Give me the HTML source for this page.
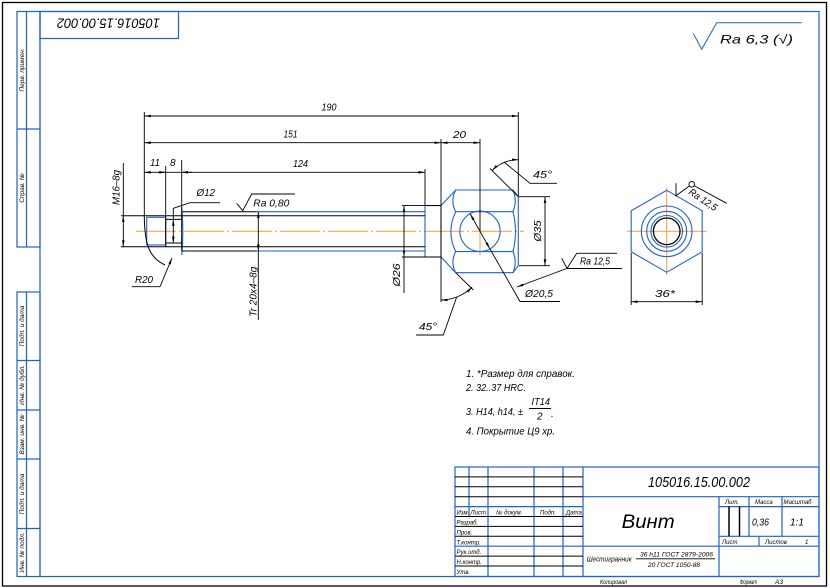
<!DOCTYPE html>
<html><head><meta charset="utf-8"><style>
html,body{margin:0;padding:0;background:#fff;}
svg{display:block}
text{font-family:"Liberation Sans","DejaVu Sans",sans-serif;font-style:italic;fill:#000}
</style></head><body>
<svg width="830" height="588" viewBox="0 0 830 588" xmlns="http://www.w3.org/2000/svg">
<defs>
<marker id="a" viewBox="0 0 10 4" refX="10" refY="2" markerWidth="6.5" markerHeight="2.6" markerUnits="userSpaceOnUse" orient="auto-start-reverse"><path d="M0,0L10,2L0,4z" fill="#000"/></marker>
</defs>
<rect width="830" height="588" fill="#fff"/>
<rect x="2.5" y="2.5" width="824" height="583.5" fill="none" stroke="#000" stroke-width="1.3"/>
<g fill="none" stroke="#2060d0" stroke-width="1.2">
 <rect x="40" y="11.5" width="779" height="565"/>
 <rect x="17" y="11.5" width="23" height="235.5"/>
 <path d="M26.5,11.5V247 M17,129H40"/>
 <rect x="17" y="292" width="23" height="284.5"/>
 <path d="M26.5,292V576.5 M17,360.5H40 M17,410H40 M17,459H40 M17,528.5H40"/>
 <rect x="40" y="11.5" width="138.5" height="27"/>
</g>
<g font-size="6.5">
 <text transform="translate(24,70) rotate(-90)" text-anchor="middle">Перв. примен.</text>
 <text transform="translate(24,188) rotate(-90)" text-anchor="middle">Справ. №</text>
 <text transform="translate(24,326) rotate(-90)" text-anchor="middle">Подп. и дата</text>
 <text transform="translate(24,385) rotate(-90)" text-anchor="middle">Инв. № дубл.</text>
 <text transform="translate(24,434.5) rotate(-90)" text-anchor="middle">Взам. инв. №</text>
 <text transform="translate(24,494) rotate(-90)" text-anchor="middle">Подп. и дата</text>
 <text transform="translate(24,552.5) rotate(-90)" text-anchor="middle">Инв. № подл.</text>
</g>
<text transform="translate(109,24.5) rotate(180)" x="-51" y="6" font-size="14" textLength="103" lengthAdjust="spacingAndGlyphs">105016.15.00.002</text>

<path d="M693.3,33.3L701.7,49.3L716.7,22.7H801.7" fill="none" stroke="#2060d0" stroke-width="1"/>
<text x="720" y="43.5" font-size="12" textLength="73" lengthAdjust="spacingAndGlyphs">Ra 6,3 (√)</text>

<g stroke="#f0a030" stroke-width="1" fill="none">
 <path d="M136,231.3H524" stroke-dasharray="40 3 2 3"/>
 <path d="M480,231.3V255"/>
 <path d="M626.7,231.3H706.7 M666.7,188V275"/>
</g>

<g fill="none" stroke="#2060d0" stroke-width="1.1">
 <rect x="146.7" y="217.3" width="19" height="27.7"/>
 <path d="M181.7,207Q184,231 181.7,255"/>
 <path d="M256.7,211.7H425 M256.7,251H425"/>
 <path d="M425,205.6V257 M425,205.6H441 M425,257H441 M441,205.6V257"/>
 <path d="M441,205.6L455.7,190H513L518.3,196.7V265.7L513,272.7H455.7L441,257"/>
 <path d="M455.7,211.7H513 M455.7,251.6H513"/>
 <path d="M455.7,190Q450,200.8 455.7,211.7 M455.7,211.7Q446,231.5 455.7,251.6 M455.7,251.6Q450,262 455.7,272.7"/>
 <path d="M513,190Q517.5,200.8 513,211.7 M513,211.7Q518,231.5 513,251.6 M513,251.6Q517.5,262 513,272.7"/>
 <circle cx="480" cy="231.3" r="20.2"/>
 <polygon points="666.7,190.3 702.2,210.8 702.2,251.8 666.7,272.3 631.2,251.8 631.2,210.8"/>
 <circle cx="666.7" cy="231.3" r="25.3"/>
 <circle cx="666.7" cy="231.3" r="20"/>
 <circle cx="666.7" cy="231.3" r="15.8"/>
</g>
<circle cx="666.7" cy="231.3" r="13.3" fill="none" stroke="#000" stroke-width="1.3"/>

<g fill="none" stroke="#000" stroke-width="1">
 <path d="M121,215.7H425 M121,246.7H425"/>
 <path d="M181.7,211.7H256.7 M181.7,251H256.7 M181.7,211.7V251"/>
 <path d="M165.7,215.7V246.7 M165.7,219.4H181.7 M165.7,243H181.7"/>
 <path d="M144.3,215.7C144.5,246 150,258 165,265"/>
</g>

<g fill="none" stroke="#000" stroke-width="0.9">
 <path d="M144.3,112V216 M165.7,166V216 M181.7,160V211.7 M425,169V205.6 M441,139V302 M518.3,112V196.7 M480,139V231"/>
 <path d="M144.3,116H518.3" marker-start="url(#a)" marker-end="url(#a)"/>
 <path d="M144.3,142.7H441" marker-start="url(#a)" marker-end="url(#a)"/>
 <path d="M441,142.7H480" marker-start="url(#a)" marker-end="url(#a)"/>
 <path d="M144.3,172.3H425" marker-start="url(#a)" marker-end="url(#a)"/>
 <path d="M158,172.3H165.7" marker-end="url(#a)"/>
 <path d="M192,172.3H181.7" marker-end="url(#a)"/>
 <path d="M123.3,163V215.7"/>
 <path d="M123.3,231V215.7" marker-end="url(#a)"/>
 <path d="M123.3,231V246.7" marker-end="url(#a)"/>
 <path d="M173.3,231V219.4" marker-end="url(#a)"/>
 <path d="M173.3,231V243" marker-end="url(#a)"/>
 <path d="M173.3,219.4V208.3L190,202.7H220"/>
 <path d="M258.3,231V211.7" marker-end="url(#a)"/>
 <path d="M258.3,231V251" marker-end="url(#a)"/>
 <path d="M258.3,251V320"/>
 <path d="M236.7,203.3L242.7,210.7L251.7,194H295"/>
 <path d="M160,286.7L172,258" marker-end="url(#a)"/>
 <path d="M160,286.7H131.7"/>
 <path d="M402,205.6H441 M402,257H441"/>
 <path d="M404,231V205.6" marker-end="url(#a)"/>
 <path d="M404,231V257" marker-end="url(#a)"/>
 <path d="M404,257V293"/>
 <path d="M519,196.7H550 M519,265.7H550"/>
 <path d="M545,231V196.7" marker-end="url(#a)"/>
 <path d="M545,231V265.7" marker-end="url(#a)"/>
 <path d="M490,168.4L518.3,196.7"/>
 <path d="M492.1,170.5A37,37 0 0 1 518.3,159.7" marker-start="url(#a)" marker-end="url(#a)"/>
 <path d="M504,162L530,183.3H557"/>
 <path d="M455.7,272.7L473.3,290"/>
 <path d="M441,300A44,44 0 0 0 472.1,287.1" marker-start="url(#a)" marker-end="url(#a)"/>
 <path d="M456.7,297L443.3,335H416"/>
 <path d="M470.2,213.9L489.8,248.7" marker-start="url(#a)" marker-end="url(#a)"/>
 <path d="M489.8,248.7L520,301.5H560"/>
 <path d="M566.7,268.5L517,287" marker-end="url(#a)"/>
 <path d="M561.7,258.3L567,268.5L576.7,253.3H617 M567,268.5H622"/>
 <path d="M676,183.3V195.7L689,186.2 M694,185.6L726.7,203.3"/>
 <circle cx="691.7" cy="184.3" r="2.8"/>
 <path d="M631.2,253V305 M702.2,253V305"/>
 <path d="M631.2,301.7H702.2" marker-start="url(#a)" marker-end="url(#a)"/>
</g>

<g font-size="10">
 <text x="321.5" y="110.5" textLength="15" lengthAdjust="spacingAndGlyphs">190</text>
 <text x="283.5" y="137.5" textLength="14" lengthAdjust="spacingAndGlyphs">151</text>
 <text x="453" y="138" textLength="13" lengthAdjust="spacingAndGlyphs">20</text>
 <text x="293" y="167" textLength="15" lengthAdjust="spacingAndGlyphs">124</text>
 <text x="150" y="166" textLength="10" lengthAdjust="spacingAndGlyphs">11</text>
 <text x="170" y="166">8</text>
 <text x="196.5" y="196" textLength="18.5" lengthAdjust="spacingAndGlyphs">Ø12</text>
 <text x="253.3" y="206.7" textLength="36" lengthAdjust="spacingAndGlyphs">Ra 0,80</text>
 <text x="135" y="283" textLength="18" lengthAdjust="spacingAndGlyphs">R20</text>
 <text transform="translate(119.5,187.5) rotate(-90)" text-anchor="middle" textLength="35" lengthAdjust="spacingAndGlyphs">M16–8g</text>
 <text transform="translate(256.5,291.7) rotate(-90)" text-anchor="middle" textLength="50" lengthAdjust="spacingAndGlyphs">Tr 20x4–8g</text>
 <text transform="translate(400,275) rotate(-90)" text-anchor="middle" textLength="23" lengthAdjust="spacingAndGlyphs">Ø26</text>
 <text transform="translate(541,231) rotate(-90)" text-anchor="middle" textLength="21" lengthAdjust="spacingAndGlyphs">Ø35</text>
 <text x="533" y="178" textLength="19" lengthAdjust="spacingAndGlyphs">45°</text>
 <text x="419" y="330" textLength="18" lengthAdjust="spacingAndGlyphs">45°</text>
 <text x="525" y="297" textLength="28" lengthAdjust="spacingAndGlyphs">Ø20,5</text>
 <text x="580" y="264.5" textLength="30" lengthAdjust="spacingAndGlyphs">Ra 12,5</text>
 <text transform="translate(688,193.5) rotate(34)" textLength="32" lengthAdjust="spacingAndGlyphs">Ra 12,5</text>
 <text x="655" y="297" textLength="20" lengthAdjust="spacingAndGlyphs">36*</text>
</g>

<g font-size="10">
 <text x="466" y="377" textLength="109" lengthAdjust="spacingAndGlyphs">1. *Размер для справок.</text>
 <text x="466" y="391" textLength="60" lengthAdjust="spacingAndGlyphs">2. 32..37 HRC.</text>
 <text x="466" y="415" textLength="57" lengthAdjust="spacingAndGlyphs">3. H14, h14, ±</text>
 <text x="531.5" y="405" textLength="18.5" lengthAdjust="spacingAndGlyphs">IT14</text>
 <text x="537" y="419.5">2</text>
 <text x="551" y="417">.</text>
 <text x="466" y="434.5" textLength="89" lengthAdjust="spacingAndGlyphs">4. Покрытие Ц9 хр.</text>
</g>
<path d="M529,408.5H551" stroke="#000" stroke-width="0.9"/>

<g fill="none" stroke="#2060d0" stroke-width="1.2">
 <rect x="455" y="467" width="364" height="109.5"/>
 <path d="M469,467V516.5 M488,467V576.5 M534,467V576.5 M563,467V576.5 M583,467V576.5"/>
 <path d="M455,506.6H583 M455,546.2H583"/>
 <path d="M583,496.7H819 M719,506.6H819 M719,536.3H819 M583,546.2H819"/>
 <path d="M719,496.7V576.5 M749,496.7V536.3 M782,496.7V536.3 M759,536.3V546.2"/>
</g>
<g fill="none" stroke="#000" stroke-width="1">
 <path d="M455,476.9H583 M455,486.8H583 M455,496.7H583 M455,516.5H583 M455,526.4H583 M455,536.3H583 M455,556.1H583 M455,566H583"/>
 <path d="M729,506.6V536.3 M739.5,506.6V536.3" stroke-width="1.5"/>
</g>
<g font-size="6">
 <text x="456.5" y="514.5">Изм.</text>
 <text x="470.5" y="514.5">Лист</text>
 <text x="496" y="514.5">№ докум.</text>
 <text x="540" y="514.5">Подп.</text>
 <text x="566" y="514.5">Дата</text>
 <text x="456.5" y="524.5">Разраб.</text>
 <text x="456.5" y="534.4">Пров.</text>
 <text x="456.5" y="544.3">Т.контр.</text>
 <text x="456.5" y="554.2">Рук.отд.</text>
 <text x="456.5" y="564.1">Н.контр.</text>
 <text x="456.5" y="574">Утв.</text>
 <text x="725" y="504">Лит.</text>
 <text x="755" y="504">Масса</text>
 <text x="783.5" y="504">Масштаб</text>
 <text x="722" y="544">Лист</text>
 <text x="765" y="544">Листов</text>
 <text x="805" y="544">1</text>
</g>
<text x="648" y="487" font-size="15" textLength="102" lengthAdjust="spacingAndGlyphs">105016.15.00.002</text>
<text x="621.7" y="528" font-size="19" textLength="53" lengthAdjust="spacingAndGlyphs">Винт</text>
<text x="752" y="525.5" font-size="10" textLength="17" lengthAdjust="spacingAndGlyphs">0,36</text>
<text x="790" y="525.5" font-size="10">1:1</text>
<text x="586.7" y="561.5" font-size="7" textLength="45" lengthAdjust="spacingAndGlyphs">Шестигранник</text>
<text x="640" y="556.5" font-size="6.5" textLength="73" lengthAdjust="spacingAndGlyphs">36 h11 ГОСТ 2879-2006</text>
<path d="M636,558.8H715" stroke="#000" stroke-width="0.8"/>
<text x="648" y="566.8" font-size="6.5" textLength="52" lengthAdjust="spacingAndGlyphs">20 ГОСТ 1050-88</text>
<g font-size="6.5">
 <text x="600" y="584" textLength="27" lengthAdjust="spacingAndGlyphs">Копировал</text>
 <text x="740" y="584" textLength="17" lengthAdjust="spacingAndGlyphs">Формат</text>
 <text x="775" y="584">A3</text>
</g>
</svg>
</body></html>
